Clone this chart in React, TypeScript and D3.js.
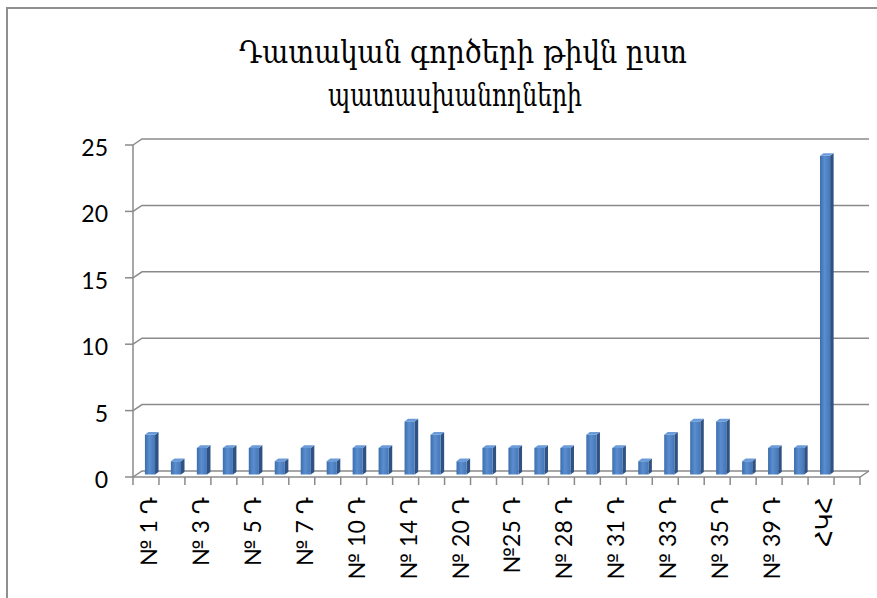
import React, { useEffect, useRef } from 'react';
import * as d3 from 'd3';

const categories = [
  '№ 1 Դ', '№ 2 Դ', '№ 3 Դ', '№ 4 Դ', '№ 5 Դ', '№ 6 Դ', '№ 7 Դ',
  '№ 8 Դ', '№ 10 Դ', '№ 12 Դ', '№ 14 Դ', '№ 17 Դ', '№ 20 Դ', '№ 22 Դ',
  '№25 Դ', '№ 27 Դ', '№ 28 Դ', '№ 30 Դ', '№ 31 Դ', '№ 32 Դ', '№ 33 Դ',
  '№ 34 Դ', '№ 35 Դ', '№ 37 Դ', '№ 39 Դ', '№ 40 Դ', 'ՀԿՀ', ' ',
];
const cases: (number | null)[] = [
  3, 1, 2, 2, 2, 1, 2, 1, 2, 2, 4, 3, 1, 2,
  2, 2, 2, 3, 2, 1, 3, 4, 4, 1, 2, 2, 24, null,
];
const yTicks = [0, 5, 10, 15, 20, 25];
const titleLines = ['Դատական գործերի թիվն ըստ', 'պատասխանողների'];

export default function App() {
  const svgRef = useRef<SVGSVGElement>(null);

  useEffect(() => {
    const svg = d3.select(svgRef.current);
    svg.selectAll('*').remove();

    const x = d3.scaleBand<string>().domain(categories).range([133, 860]);
    const y = d3.scaleLinear().domain([0, 25]).range([477, 145]);
    const bw = x.bandwidth();
    const dx = 9, dy = -6; // 3d depth of the walls
    const grid = '#8a8a8a';

    // gradient for bar fronts
    const defs = svg.append('defs');
    const grad = defs.append('linearGradient').attr('id', 'barFront')
      .attr('x1', '0%').attr('x2', '100%').attr('y1', '0%').attr('y2', '0%');
    grad.append('stop').attr('offset', '0%').attr('stop-color', '#3d6dab');
    grad.append('stop').attr('offset', '45%').attr('stop-color', '#5a8ed0');
    grad.append('stop').attr('offset', '100%').attr('stop-color', '#4676b6');

    // outer frame
    svg.append('rect')
      .attr('x', 7).attr('y', 8).attr('width', 900).attr('height', 620)
      .attr('fill', 'white').attr('stroke', '#8f8f8f').attr('stroke-width', 2);

    // title
    const titleX = [463, 455];
    const titleY = [63, 106];
    const titleW = [448, 254];
    titleLines.forEach((t, i) => {
      svg.append('text')
        .attr('x', titleX[i]).attr('y', titleY[i])
        .attr('text-anchor', 'middle')
        .attr('textLength', titleW[i])
        .attr('lengthAdjust', 'spacingAndGlyphs')
        .style('font-family', "'DejaVu Serif', 'DejaVu Sans', serif")
        .style('font-size', '32px')
        .style('fill', '#000')
        .text(t);
    });

    const g = svg.append('g');
    const x0 = x.range()[0], x1 = x.range()[1];

    // gridlines with the 3d wall offset
    yTicks.forEach(t => {
      const yy = y(t);
      g.append('line').attr('x1', x0 - 8).attr('x2', x0).attr('y1', yy).attr('y2', yy)
        .attr('stroke', grid).attr('stroke-width', 1.5);
      g.append('path')
        .attr('d', `M${x0},${yy}L${x0 + dx},${yy + dy}L${x1 + dx},${yy + dy}`)
        .attr('fill', 'none').attr('stroke', grid).attr('stroke-width', 1.5);
    });

    // floor
    const yb = y(0);
    g.append('path')
      .attr('d', `M${x0},${yb}L${x1},${yb}L${x1 + dx},${yb + dy}`)
      .attr('fill', 'none').attr('stroke', grid).attr('stroke-width', 1.5);

    // y axis
    g.append('line').attr('x1', x0).attr('x2', x0).attr('y1', y(25)).attr('y2', yb)
      .attr('stroke', grid).attr('stroke-width', 1.5);

    // x ticks
    const edges = categories.map(c => x(c) as number).concat([x1]);
    edges.forEach(e => {
      g.append('line').attr('x1', e).attr('x2', e).attr('y1', yb).attr('y2', yb + 8)
        .attr('stroke', grid).attr('stroke-width', 1.5);
    });

    // y labels
    yTicks.forEach(t => {
      g.append('text')
        .attr('x', 108).attr('y', y(t) + 2)
        .attr('text-anchor', 'end')
        .attr('dominant-baseline', 'central')
        .style('font-family', "Lato, 'DejaVu Sans', sans-serif")
        .style('font-size', '23px')
        .style('fill', '#000')
        .text(t);
    });

    // bars
    const barW = bw * 0.39;
    const sdx = 3.5, sdy = -2.6;
    categories.forEach((c, i) => {
      const v = cases[i];
      if (v == null) return;
      const cx = (x(c) as number) + bw / 2 + 4;
      const xl = cx - barW / 2, xr = cx + barW / 2;
      const base = y(0) - 2.5;
      const top = y(v) - 2.5;
      const bar = g.append('g');
      bar.append('polygon')
        .attr('points', [[xr, top], [xr + sdx, top + sdy], [xr + sdx, base + sdy], [xr, base]].map(p => p.join(',')).join(' '))
        .attr('fill', '#2e5283');
      bar.append('rect')
        .attr('x', xl).attr('y', top).attr('width', barW).attr('height', base - top)
        .attr('fill', 'url(#barFront)');
      bar.append('polygon')
        .attr('points', [[xl, top], [xl + sdx, top + sdy], [xr + sdx, top + sdy], [xr, top]].map(p => p.join(',')).join(' '))
        .attr('fill', '#6b9bd8');
    });

    // category labels, every other one
    categories.forEach((c, i) => {
      if (i % 2 !== 0) return;
      g.append('text')
        .attr('transform', `translate(${(x(c) as number) + bw / 2 + 2},497) rotate(-90)`)
        .attr('text-anchor', 'end')
        .attr('dominant-baseline', 'central')
        .style('font-family', "Lato, 'DejaVu Sans', sans-serif")
        .style('font-size', '23px')
        .style('fill', '#000')
        .text(c);
    });
  }, []);

  return (
    <svg
      ref={svgRef}
      width={877}
      height={598}
      style={{ position: 'absolute', left: 0, top: 0, display: 'block' }}
    />
  );
}
